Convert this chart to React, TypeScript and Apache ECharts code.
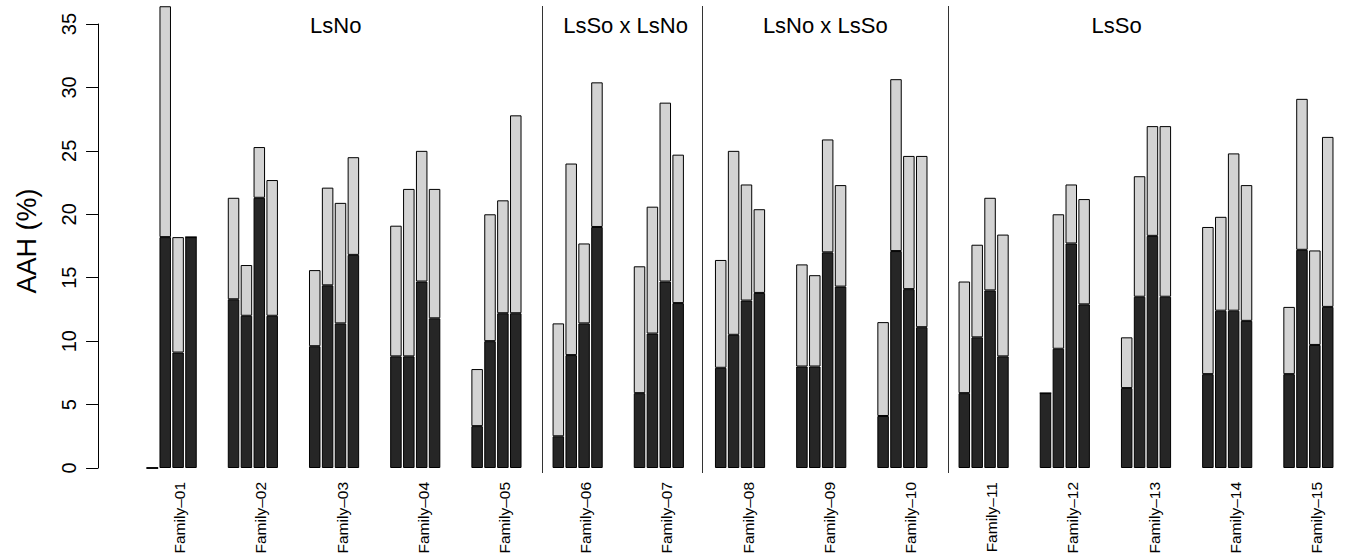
import React, { useEffect, useRef } from "react";
import * as echarts from "echarts";

const families = [
  "Family–01", "Family–02", "Family–03", "Family–04", "Family–05",
  "Family–06", "Family–07", "Family–08", "Family–09", "Family–10",
  "Family–11", "Family–12", "Family–13", "Family–14", "Family–15",
];

// dark (lower) part of each of the four bars per family
const darkBar1 = [0, 13.3, 9.6, 8.8, 3.3, 2.5, 5.9, 7.9, 8.0, 4.1, 5.9, 5.9, 6.3, 7.4, 7.4];
const darkBar2 = [18.2, 12.0, 14.4, 8.8, 10.0, 8.9, 10.6, 10.5, 8.0, 17.1, 10.3, 9.4, 13.5, 12.4, 17.2];
const darkBar3 = [9.1, 21.3, 11.4, 14.7, 12.2, 11.4, 14.7, 13.2, 17.0, 14.1, 14.0, 17.7, 18.3, 12.4, 9.7];
const darkBar4 = [18.2, 12.0, 16.8, 11.8, 12.2, 19.0, 13.0, 13.8, 14.3, 11.1, 8.8, 12.9, 13.5, 11.6, 12.7];

// total height (dark + light) of each bar
const totalBar1 = [0, 21.3, 15.6, 19.1, 7.8, 11.4, 15.9, 16.4, 16.05, 11.5, 14.7, 5.9, 10.3, 19.0, 12.7];
const totalBar2 = [36.4, 16.0, 22.1, 22.0, 20.0, 24.0, 20.6, 25.0, 15.2, 30.65, 17.6, 20.0, 23.0, 19.8, 29.1];
const totalBar3 = [18.2, 25.3, 20.9, 25.0, 21.1, 17.7, 28.8, 22.35, 25.9, 24.6, 21.3, 22.35, 26.95, 24.8, 17.15];
const totalBar4 = [18.2, 22.7, 24.5, 22.0, 27.8, 30.4, 24.7, 20.4, 22.3, 24.6, 18.4, 21.2, 26.95, 22.3, 26.1];

const groupNames = ["LsNo", "LsSo x LsNo", "LsNo x LsSo", "LsSo"];
const groupLabelPositions = [2.5, 6.04, 8.48, 12.04];
const separatorPositions = [5.07, 7.04, 10.07];

const yTicksMax = 35;
const yTickStep = 5;

const FONT = "'Liberation Sans', Arial, Helvetica, sans-serif";

export default function App() {
  const ref = useRef<HTMLDivElement>(null);

  useEffect(() => {
    if (!ref.current) return;
    const chart = echarts.init(ref.current, undefined, { renderer: "svg" });

    const W = 1349;
    const H = 557;
    const gridLeft = 131.07;
    const catW = 81.86;
    const gridWidth = catW * families.length;
    const gridTop = 24;
    const gridBottom = H - 468;

    const darks = [darkBar1, darkBar2, darkBar3, darkBar4];
    const totals = [totalBar1, totalBar2, totalBar3, totalBar4];

    const series: any[] = [];
    darks.forEach((d, k) => {
      const light = totals[k].map((t, i) => +(t - d[i]).toFixed(3));
      series.push({
        type: "bar",
        name: "dark" + (k + 1),
        stack: "s" + k,
        data: d,
        barWidth: 11.5,
        barGap: "12%",
        clip: false,
        itemStyle: { color: "#262626", borderColor: "#000", borderWidth: 1 },
        emphasis: { disabled: true },
      });
      series.push({
        type: "bar",
        name: "light" + (k + 1),
        stack: "s" + k,
        data: light,
        barWidth: 11.5,
        barGap: "12%",
        clip: false,
        itemStyle: { color: "#d3d3d3", borderColor: "#000", borderWidth: 1 },
        emphasis: { disabled: true },
      });
    });

    series.push({
      type: "line",
      xAxisIndex: 1,
      yAxisIndex: 1,
      data: [],
      silent: true,
      markLine: {
        silent: true,
        symbol: ["none", "none"],
        label: { show: false },
        lineStyle: { color: "#333", width: 1, type: "solid" },
        data: separatorPositions.map((p) => ({ xAxis: p })),
      },
    });

    const graphics = groupNames.map((name, i) => ({
      type: "text",
      x: gridLeft + catW * groupLabelPositions[i],
      y: 25,
      style: {
        text: name,
        fill: "#000",
        font: `22px ${FONT}`,
        textAlign: "center",
        textVerticalAlign: "middle",
      },
    }));

    chart.setOption({
      animation: false,
      textStyle: { fontFamily: FONT },
      grid: [
        { left: gridLeft, width: gridWidth, top: gridTop, bottom: gridBottom },
        { left: gridLeft, width: gridWidth, top: 6, bottom: H - 473 },
      ],
      xAxis: [
        {
          type: "category",
          gridIndex: 0,
          data: families,
          axisLine: { show: false },
          axisTick: { show: false },
          axisLabel: {
            rotate: 90,
            interval: 0,
            fontSize: 15.5,
            color: "#000",
            margin: 14,
            verticalAlign: "top",
            fontFamily: FONT,
          },
        },
        {
          type: "value",
          gridIndex: 1,
          min: 0,
          max: families.length,
          show: false,
        },
      ],
      yAxis: [
        {
          type: "value",
          gridIndex: 0,
          min: 0,
          max: yTicksMax,
          interval: yTickStep,
          offset: 33,
          name: "AAH (%)",
          nameLocation: "middle",
          nameRotate: 90,
          nameGap: 58,
          nameTextStyle: { fontSize: 27, color: "#000", fontFamily: FONT, padding: [0, 0, 0, 10] },
          axisLine: { show: true, lineStyle: { color: "#000", width: 1 } },
          axisTick: { show: true, length: 12, lineStyle: { color: "#000", width: 1 } },
          axisLabel: { rotate: 90, fontSize: 20, color: "#000", margin: 19, fontFamily: FONT },
          splitLine: { show: false },
        },
        {
          type: "value",
          gridIndex: 1,
          min: 0,
          max: 1,
          show: false,
        },
      ],
      graphic: graphics,
      series,
    });

    return () => chart.dispose();
  }, []);

  return (
    <div
      ref={ref}
      style={{ position: "absolute", left: 0, top: 0, width: 1349, height: 557, background: "#fff" }}
    />
  );
}
